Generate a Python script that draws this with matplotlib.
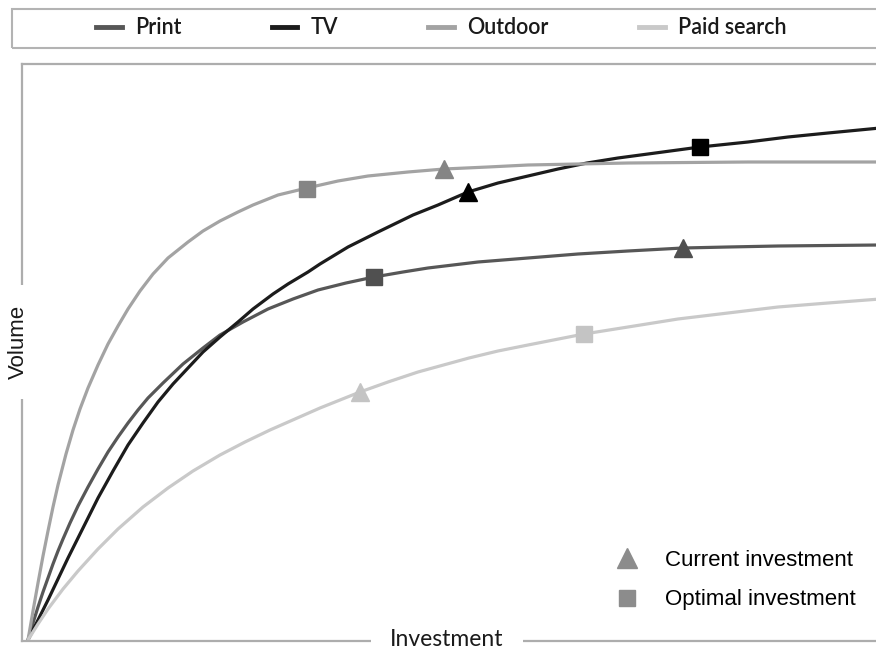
import matplotlib.pyplot as plt
from matplotlib.lines import Line2D
from matplotlib.patches import Rectangle

# response curves (investment, volume in pixel-ish units)
print_x = [0, 5, 10, 15, 20, 25, 30, 35, 42, 50, 60, 70, 80, 90, 100, 110, 120, 135, 155, 175,
           192, 215, 240, 265, 290, 318, 346, 375, 400, 450, 500, 550, 600, 655, 700, 750, 800, 852]
print_y = [0, 17, 33, 48, 62, 76, 89, 101, 117, 134, 153, 171, 188, 203, 217, 230, 242, 257, 276, 292,
           305, 318, 331, 341, 350, 357, 363, 368, 372, 378, 382, 386, 389, 392, 393, 394, 394.5, 395]

tv_x = [0, 10, 20, 30, 40, 55, 70, 85, 100, 115, 130, 145, 160, 175, 192, 210, 225, 245, 260, 280,
        292, 320, 350, 385, 410, 440, 470, 500, 530, 559, 590, 620, 672, 720, 760, 800, 852]
tv_y = [0, 20, 40, 61, 82, 112, 142, 169, 195, 217, 238, 256, 272, 288, 303, 318, 331, 346, 356, 368,
        376, 393, 408, 425, 435, 448, 457, 464, 471, 477, 482, 486, 493, 498, 503, 507, 512]

outdoor_x = [0, 5, 10, 15, 20, 25, 30, 38, 45, 52, 60, 70, 80, 90, 100, 112, 125, 140, 160, 175,
             192, 210, 225, 250, 279, 310, 340, 380, 416, 460, 500, 550, 600, 660, 720, 790, 852]
outdoor_y = [0, 29, 57, 84, 109, 133, 155, 186, 210, 231, 252, 275, 296, 314, 331, 349, 366, 382, 398, 409,
             419, 428, 435, 445, 452, 459, 464, 468, 471, 473, 475, 476, 477, 477.5, 478, 478, 478]

paid_x = [0, 10, 20, 35, 50, 70, 90, 115, 140, 165, 192, 217, 242, 267, 292, 332, 360, 390, 441, 470,
          500, 556, 600, 650, 700, 750, 800, 852]
paid_y = [0, 16, 31, 51, 69, 91, 111, 133, 152, 169, 185, 198, 210, 221, 232, 248, 258, 268, 282, 289,
          295, 306, 313, 321, 327, 333, 337, 341]

channels = ["Print", "TV", "Outdoor", "Paid search"]
line_colors = ["#575757", "#1c1c1c", "#a3a3a3", "#c9c9c9"]
marker_colors = ["#505050", "#000000", "#858585", "#c4c4c4"]

# current (triangle) and optimal (square) investment points
current_x = [655, 440, 416, 332]
current_y = [392, 448, 471, 248]
optimal_x = [346, 672, 279, 556]
optimal_y = [363, 493, 451, 306]

curves = [(print_x, print_y), (tv_x, tv_y), (outdoor_x, outdoor_y), (paid_x, paid_y)]

W, H = 876, 650
fig = plt.figure(figsize=(W / 100, H / 100), dpi=100)
ax = fig.add_axes([22 / W, (H - 641) / H, (880 - 22) / W, (641 - 64) / H])

for (xs, ys), c in zip(curves, line_colors):
    ax.plot(xs, ys, color=c, lw=2.3, solid_capstyle="round", solid_joinstyle="round", zorder=2)

for i in range(len(channels)):
    ax.plot(current_x[i], current_y[i], marker="^", ms=13, color=marker_colors[i],
            ls="none", zorder=4)
    ax.plot(optimal_x[i], optimal_y[i], marker="s", ms=11, color=marker_colors[i],
            ls="none", zorder=4)

ax.set_xlim(-6, 852)
ax.set_ylim(-1, 576)
ax.set_xticks([])
ax.set_yticks([])
for s in ["left", "bottom", "top"]:
    ax.spines[s].set_color("#adadad")
    ax.spines[s].set_linewidth(1.6)
ax.spines["right"].set_visible(False)

# axis titles sit on the spines with a white box cutting the line
fig.text(18 / W, (H - 342) / H, "Volume", rotation=90, ha="center", va="center",
         fontsize=16, family="Liberation Sans", color="#1a1a1a",
         bbox=dict(boxstyle="square,pad=0.9", fc="white", ec="none"))
fig.text(447 / W, (H - 640) / H, "Investment", ha="center", va="center",
         fontsize=16.5, family="Lato", color="#1a1a1a",
         bbox=dict(boxstyle="square,pad=0.85", fc="white", ec="none"))

# top legend, with its own frame that runs off the right edge
fig.patches.append(Rectangle((12 / W, (H - 48) / H), 880 / W, 39 / H,
                             transform=fig.transFigure, fill=False,
                             ec="#b3b3b3", lw=1.5))
handles = [Line2D([], [], color=c, lw=3.5) for c in line_colors]
leg = fig.legend(handles, channels, ncol=4, frameon=False,
                 loc="center", bbox_to_anchor=(441 / W, (H - 28) / H),
                 prop=dict(family="Lato", size=15.5, weight="semibold"),
                 handlelength=1.2, handletextpad=0.6, columnspacing=4.2)
for t in leg.get_texts():
    t.set_color("#1a1a1a")

# marker key, bottom right
key = [Line2D([], [], marker="^", ms=14, color="#8c8c8c", ls="none"),
       Line2D([], [], marker="s", ms=12, color="#8c8c8c", ls="none")]
fig.legend(key, ["Current investment", "Optimal investment"], frameon=False,
           loc="center left", bbox_to_anchor=(603 / W, (H - 580) / H),
           prop=dict(family="Liberation Sans", size=16),
           handlelength=1.2, handletextpad=1.1, labelspacing=0.85,
           borderpad=0)

fig.savefig("out.png", dpi=100)
